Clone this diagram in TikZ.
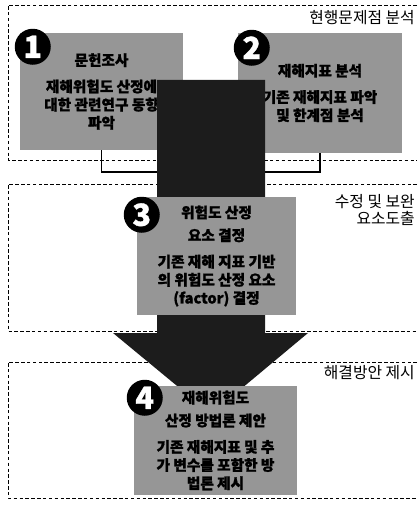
\documentclass[tikz,border=0pt]{standalone}
\usepackage{fontspec}
\setmainfont{Noto Sans CJK KR}[BoldFeatures={FakeBold=1.2}]
\usepackage{tikz}
\usetikzlibrary{positioning}
\definecolor{boxgray}{RGB}{150,150,150}
\definecolor{bardark}{RGB}{28,28,28}

\begin{document}
\begin{tikzpicture}[
    x=0.03cm, y=-0.03cm,
    box/.style={rectangle, fill=boxgray, align=center, inner sep=0pt, font=\fontsize{12.5}{15.5}\selectfont\bfseries},
    num/.style={circle, fill=black, text=white, minimum size=1.08cm, inner sep=0pt, font=\fontsize{26}{26}\selectfont\bfseries},
    stage/.style={anchor=east, align=right, inner sep=0pt, font=\fontsize{13.5}{14.5}\selectfont},
    frame/.style={draw, densely dashed, line width=0.5pt},
    bracket/.style={draw, line width=1.7pt}
]
\useasboundingbox (0,0) rectangle (417,508);
% stage frames
\draw[frame] (417,5) -- (8,5) -- (8,160) -- (417,160);
\draw[frame] (417,184) -- (8,184) -- (8,331) -- (417,331);
\draw[frame] (417,362) -- (8,362) -- (8,498) -- (417,498);

% steps
\node[box, minimum width=4.89cm, minimum height=3.51cm] (lit) at (101.5,91.5)
    {문헌조사\\[7pt] 재해위험도 산정에\\대한 관련연구 동향\\파악};
\node[box, minimum width=4.92cm, minimum height=3.6cm] (idx) at (320,93)
    {재해지표 분석\\[7pt] 기존 재해지표 파악\\및 한계점 분석};

% bracket and big arrow
\draw[bracket] (lit.south) -- ++(0,22) -| (idx.south);
\fill[bardark] (157,80) -- (265,80) -- (265,333) -- (308,333) -- (211,414) -- (113,333) -- (157,333) -- cycle;

\node[box, minimum width=4.77cm, minimum height=3.54cm] (fac) at (216.5,256)
    {위험도 산정\\[4pt]요소 결정\\[7pt] 기존 재해 지표 기반\\의 위험도 산정 요소\\(factor) 결정};
\node[box, minimum width=4.89cm, minimum height=3.27cm] (mth) at (215.5,440.5)
    {재해위험도\\[4pt]산정 방법론 제안\\[7pt] 기존 재해지표 및 추\\가 변수를 포함한 방\\법론 제시};

% step numbers
\node[num] (n1) at ([shift={(13,14)}]lit.north west) {1};
\node[num] (n2) at ([shift={(14,15)}]idx.north west) {2};
\node[num] (n3) at ([shift={(5,18)}]fac.north west) {3};
\node[num] (n4) at ([shift={(11,12)}]mth.north west) {4};

% stage labels
\node[stage] (s1) at (415,18) {현행문제점 분석};
\node[stage] (s2) at (415,210) {수정 및 보완\\요소도출};
\node[stage] (s3) at (415,373) {해결방안 제시};
\end{tikzpicture}
\end{document}
